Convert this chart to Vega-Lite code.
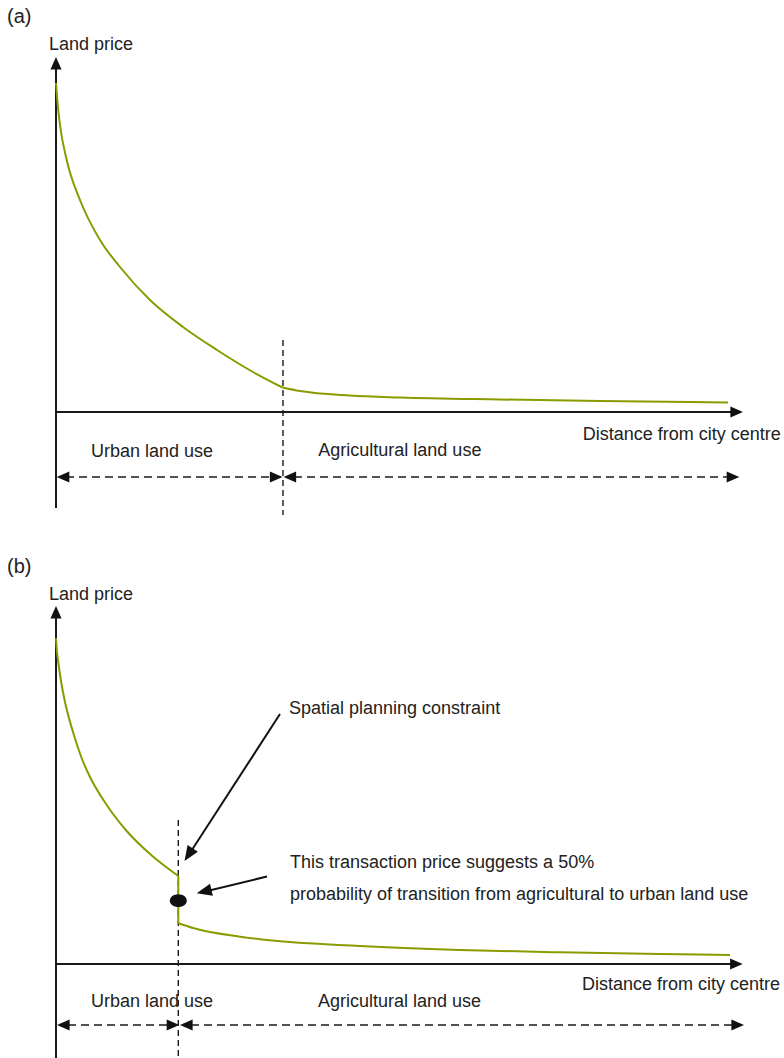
{
  "$schema": "https://vega.github.io/schema/vega-lite/v6.json",
  "padding": 0,
  "spacing": 0,
  "background": "white",
  "config": {"view": {"stroke": null}, "text": {"font": "Liberation Sans"}},
  "data": {"values": [
    {"panel": "a", "kind": "curve", "seg": "urban", "i": 0, "d": 0, "p": 329},
    {"panel": "a", "kind": "curve", "seg": "urban", "i": 1, "d": 1.3, "p": 312},
    {"panel": "a", "kind": "curve", "seg": "urban", "i": 2, "d": 4, "p": 287},
    {"panel": "a", "kind": "curve", "seg": "urban", "i": 3, "d": 10.7, "p": 252},
    {"panel": "a", "kind": "curve", "seg": "urban", "i": 4, "d": 24, "p": 212},
    {"panel": "a", "kind": "curve", "seg": "urban", "i": 5, "d": 44, "p": 172},
    {"panel": "a", "kind": "curve", "seg": "urban", "i": 6, "d": 64, "p": 145},
    {"panel": "a", "kind": "curve", "seg": "urban", "i": 7, "d": 94, "p": 112},
    {"panel": "a", "kind": "curve", "seg": "urban", "i": 8, "d": 127, "p": 85},
    {"panel": "a", "kind": "curve", "seg": "urban", "i": 9, "d": 161, "p": 62},
    {"panel": "a", "kind": "curve", "seg": "urban", "i": 10, "d": 197, "p": 40},
    {"panel": "a", "kind": "curve", "seg": "urban", "i": 11, "d": 226.5, "p": 24.5},
    {"panel": "a", "kind": "curve", "seg": "agri", "i": 12, "d": 226.5, "p": 24.5},
    {"panel": "a", "kind": "curve", "seg": "agri", "i": 13, "d": 244, "p": 21},
    {"panel": "a", "kind": "curve", "seg": "agri", "i": 14, "d": 294, "p": 16.5},
    {"panel": "a", "kind": "curve", "seg": "agri", "i": 15, "d": 344, "p": 14.5},
    {"panel": "a", "kind": "curve", "seg": "agri", "i": 16, "d": 444, "p": 12.5},
    {"panel": "a", "kind": "curve", "seg": "agri", "i": 17, "d": 544, "p": 11},
    {"panel": "a", "kind": "curve", "seg": "agri", "i": 18, "d": 672, "p": 9.5},
    {"panel": "a", "kind": "axis", "d": 0, "p": -96, "d2": 0, "p2": 350},
    {"panel": "a", "kind": "axis", "d": 0, "p": 0, "d2": 682, "p2": 0},
    {"panel": "a", "kind": "head", "dir": "up", "d": 0, "p": 355},
    {"panel": "a", "kind": "head", "dir": "right", "d": 687, "p": 0},
    {"panel": "a", "kind": "divider", "d": 227, "p": 72, "d2": 227, "p2": -103},
    {"panel": "a", "kind": "extent", "d": 10, "p": -65, "d2": 216, "p2": -65},
    {"panel": "a", "kind": "extent", "d": 238, "p": -65, "d2": 673, "p2": -65},
    {"panel": "a", "kind": "head", "dir": "left", "d": 0.7, "p": -65},
    {"panel": "a", "kind": "head", "dir": "right", "d": 226.5, "p": -65},
    {"panel": "a", "kind": "head", "dir": "left", "d": 227.5, "p": -65},
    {"panel": "a", "kind": "head", "dir": "right", "d": 683.3, "p": -65},
    {"panel": "a", "kind": "tag", "text": "(a)", "d": -49, "p": 389},
    {"panel": "a", "kind": "label", "text": "Land price", "d": -7, "p": 362},
    {"panel": "a", "kind": "label", "text": "Distance from city centre", "d": 526.7, "p": -28},
    {"panel": "a", "kind": "label", "text": "Urban land use", "d": 35, "p": -44.7},
    {"panel": "a", "kind": "label", "text": "Agricultural land use", "d": 262.3, "p": -44.3},

    {"panel": "b", "kind": "curve", "seg": "urban", "i": 0, "d": 0, "p": 326},
    {"panel": "b", "kind": "curve", "seg": "urban", "i": 1, "d": 1, "p": 312},
    {"panel": "b", "kind": "curve", "seg": "urban", "i": 2, "d": 2.5, "p": 300},
    {"panel": "b", "kind": "curve", "seg": "urban", "i": 3, "d": 5, "p": 283},
    {"panel": "b", "kind": "curve", "seg": "urban", "i": 4, "d": 9, "p": 262},
    {"panel": "b", "kind": "curve", "seg": "urban", "i": 5, "d": 17.3, "p": 231},
    {"panel": "b", "kind": "curve", "seg": "urban", "i": 6, "d": 26, "p": 205},
    {"panel": "b", "kind": "curve", "seg": "urban", "i": 7, "d": 34, "p": 187},
    {"panel": "b", "kind": "curve", "seg": "urban", "i": 8, "d": 50.7, "p": 159},
    {"panel": "b", "kind": "curve", "seg": "urban", "i": 9, "d": 70.7, "p": 133},
    {"panel": "b", "kind": "curve", "seg": "urban", "i": 10, "d": 94, "p": 110},
    {"panel": "b", "kind": "curve", "seg": "urban", "i": 11, "d": 122.3, "p": 88},
    {"panel": "b", "kind": "curve", "seg": "jump", "i": 12, "d": 122.3, "p": 88},
    {"panel": "b", "kind": "curve", "seg": "jump", "i": 13, "d": 122.3, "p": 40.7},
    {"panel": "b", "kind": "curve", "seg": "agri", "i": 14, "d": 122.3, "p": 40.7},
    {"panel": "b", "kind": "curve", "seg": "agri", "i": 15, "d": 137, "p": 36},
    {"panel": "b", "kind": "curve", "seg": "agri", "i": 16, "d": 184, "p": 27.3},
    {"panel": "b", "kind": "curve", "seg": "agri", "i": 17, "d": 204, "p": 24.7},
    {"panel": "b", "kind": "curve", "seg": "agri", "i": 18, "d": 304, "p": 18},
    {"panel": "b", "kind": "curve", "seg": "agri", "i": 19, "d": 404, "p": 14},
    {"panel": "b", "kind": "curve", "seg": "agri", "i": 20, "d": 504, "p": 11.7},
    {"panel": "b", "kind": "curve", "seg": "agri", "i": 21, "d": 604, "p": 10},
    {"panel": "b", "kind": "curve", "seg": "agri", "i": 22, "d": 674, "p": 9},
    {"panel": "b", "kind": "axis", "d": 0, "p": -94, "d2": 0, "p2": 353},
    {"panel": "b", "kind": "axis", "d": 0, "p": 0, "d2": 682, "p2": 0},
    {"panel": "b", "kind": "head", "dir": "up", "d": 0, "p": 358},
    {"panel": "b", "kind": "head", "dir": "right", "d": 686.7, "p": 0},
    {"panel": "b", "kind": "divider", "d": 122.3, "p": 144, "d2": 122.3, "p2": -94},
    {"panel": "b", "kind": "extent", "d": 12, "p": -61, "d2": 112, "p2": -61},
    {"panel": "b", "kind": "extent", "d": 135, "p": -61, "d2": 677, "p2": -61},
    {"panel": "b", "kind": "head", "dir": "left", "d": 1, "p": -61},
    {"panel": "b", "kind": "head", "dir": "right", "d": 123.3, "p": -61},
    {"panel": "b", "kind": "head", "dir": "left", "d": 124, "p": -61},
    {"panel": "b", "kind": "head", "dir": "right", "d": 688, "p": -61},
    {"panel": "b", "kind": "pointer", "d": 224, "p": 250, "d2": 132, "p2": 108},
    {"panel": "b", "kind": "pointer", "d": 211, "p": 87.5, "d2": 145, "p2": 71.5},
    {"panel": "b", "kind": "pointerhead", "dir": "sw1", "d": 128.5, "p": 103},
    {"panel": "b", "kind": "pointerhead", "dir": "sw2", "d": 140.7, "p": 70.7},
    {"panel": "b", "kind": "dot", "d": 122.3, "p": 63.3},
    {"panel": "b", "kind": "tag", "text": "(b)", "d": -49, "p": 391.3},
    {"panel": "b", "kind": "label", "text": "Land price", "d": -7, "p": 364},
    {"panel": "b", "kind": "label", "text": "Spatial planning constraint", "d": 233, "p": 250},
    {"panel": "b", "kind": "label", "text": "This transaction price suggests a 50%", "d": 234, "p": 95.7},
    {"panel": "b", "kind": "label", "text": "probability of transition from agricultural to urban land use", "d": 234, "p": 64},
    {"panel": "b", "kind": "label", "text": "Distance from city centre", "d": 526, "p": -26},
    {"panel": "b", "kind": "label", "text": "Urban land use", "d": 35, "p": -42.7},
    {"panel": "b", "kind": "label", "text": "Agricultural land use", "d": 262, "p": -42.7}
  ]},
  "vconcat": [
    {
      "width": 784,
      "height": 529,
      "transform": [{"filter": "datum.panel === 'a'"}],
      "encoding": {
        "x": {"field": "d", "type": "quantitative", "scale": {"domain": [-56, 728], "nice": false, "zero": false}, "axis": null},
        "y": {"field": "p", "type": "quantitative", "scale": {"domain": [-117, 412], "nice": false, "zero": false}, "axis": null}
      },
      "layer": [
        {"transform": [{"filter": "datum.kind === 'divider'"}], "mark": {"type": "rule", "color": "#1a1a1a", "strokeWidth": 1.4, "strokeDash": [6, 4]}, "encoding": {"x2": {"field": "d2"}, "y2": {"field": "p2"}}},
        {"transform": [{"filter": "datum.kind === 'extent'"}], "mark": {"type": "rule", "color": "#1a1a1a", "strokeWidth": 1.6, "strokeDash": [8, 5]}, "encoding": {"x2": {"field": "d2"}, "y2": {"field": "p2"}}},
        {"transform": [{"filter": "datum.kind === 'axis'"}], "mark": {"type": "rule", "color": "#1a1a1a", "strokeWidth": 2}, "encoding": {"x2": {"field": "d2"}, "y2": {"field": "p2"}}},
        {"transform": [{"filter": "datum.kind === 'curve'"}], "mark": {"type": "line", "color": "#8a9b00", "strokeWidth": 2, "interpolate": "monotone"}, "encoding": {"detail": {"field": "seg"}, "order": {"field": "i", "type": "quantitative"}}},
        {"transform": [{"filter": "datum.kind === 'head'"}], "mark": {"type": "point", "shape": "M0,0 L1.85,4.2 L-1.85,4.2 Z", "filled": true, "color": "#111111", "size": 36, "opacity": 1},
          "encoding": {"angle": {"field": "dir", "type": "nominal", "scale": {"type": "ordinal", "domain": ["up", "right", "left", "sw1", "sw2"], "range": [0, 90, 270, 213, 256.6]}, "legend": null}}},
        {"transform": [{"filter": "datum.kind === 'label'"}], "mark": {"type": "text", "align": "left", "baseline": "alphabetic", "fontSize": 18, "color": "#222222"}, "encoding": {"text": {"field": "text"}}},
        {"transform": [{"filter": "datum.kind === 'tag'"}], "mark": {"type": "text", "align": "left", "baseline": "alphabetic", "fontSize": 20, "color": "#222222"}, "encoding": {"text": {"field": "text"}}}
      ]
    },
    {
      "width": 784,
      "height": 529,
      "transform": [{"filter": "datum.panel === 'b'"}],
      "encoding": {
        "x": {"field": "d", "type": "quantitative", "scale": {"domain": [-56, 728], "nice": false, "zero": false}, "axis": null},
        "y": {"field": "p", "type": "quantitative", "scale": {"domain": [-94, 435], "nice": false, "zero": false}, "axis": null}
      },
      "layer": [
        {"transform": [{"filter": "datum.kind === 'divider'"}], "mark": {"type": "rule", "color": "#1a1a1a", "strokeWidth": 1.4, "strokeDash": [6, 4]}, "encoding": {"x2": {"field": "d2"}, "y2": {"field": "p2"}}},
        {"transform": [{"filter": "datum.kind === 'extent'"}], "mark": {"type": "rule", "color": "#1a1a1a", "strokeWidth": 1.6, "strokeDash": [8, 5]}, "encoding": {"x2": {"field": "d2"}, "y2": {"field": "p2"}}},
        {"transform": [{"filter": "datum.kind === 'axis'"}], "mark": {"type": "rule", "color": "#1a1a1a", "strokeWidth": 2}, "encoding": {"x2": {"field": "d2"}, "y2": {"field": "p2"}}},
        {"transform": [{"filter": "datum.kind === 'pointer'"}], "mark": {"type": "rule", "color": "#111111", "strokeWidth": 2}, "encoding": {"x2": {"field": "d2"}, "y2": {"field": "p2"}}},
        {"transform": [{"filter": "datum.kind === 'curve'"}], "mark": {"type": "line", "color": "#8a9b00", "strokeWidth": 2, "interpolate": "monotone"}, "encoding": {"detail": {"field": "seg"}, "order": {"field": "i", "type": "quantitative"}}},
        {"transform": [{"filter": "datum.kind === 'dot'"}], "mark": {"type": "point", "shape": "M-1,0 A1,0.75 0 1,1 1,0 A1,0.75 0 1,1 -1,0 Z", "filled": true, "color": "#111111", "size": 289, "opacity": 1}},
        {"transform": [{"filter": "datum.kind === 'head'"}], "mark": {"type": "point", "shape": "M0,0 L1.85,4.2 L-1.85,4.2 Z", "filled": true, "color": "#111111", "size": 36, "opacity": 1},
          "encoding": {"angle": {"field": "dir", "type": "nominal", "scale": {"type": "ordinal", "domain": ["up", "right", "left", "sw1", "sw2"], "range": [0, 90, 270, 213, 256.6]}, "legend": null}}},
        {"transform": [{"filter": "datum.kind === 'pointerhead'"}], "mark": {"type": "point", "shape": "M0,0 L1.7,4.2 L-1.7,4.2 Z", "filled": true, "color": "#111111", "size": 52, "opacity": 1},
          "encoding": {"angle": {"field": "dir", "type": "nominal", "scale": {"type": "ordinal", "domain": ["up", "right", "left", "sw1", "sw2"], "range": [0, 90, 270, 213, 256.6]}, "legend": null}}},
        {"transform": [{"filter": "datum.kind === 'label'"}], "mark": {"type": "text", "align": "left", "baseline": "alphabetic", "fontSize": 18, "color": "#222222"}, "encoding": {"text": {"field": "text"}}},
        {"transform": [{"filter": "datum.kind === 'tag'"}], "mark": {"type": "text", "align": "left", "baseline": "alphabetic", "fontSize": 20, "color": "#222222"}, "encoding": {"text": {"field": "text"}}}
      ]
    }
  ]
}
